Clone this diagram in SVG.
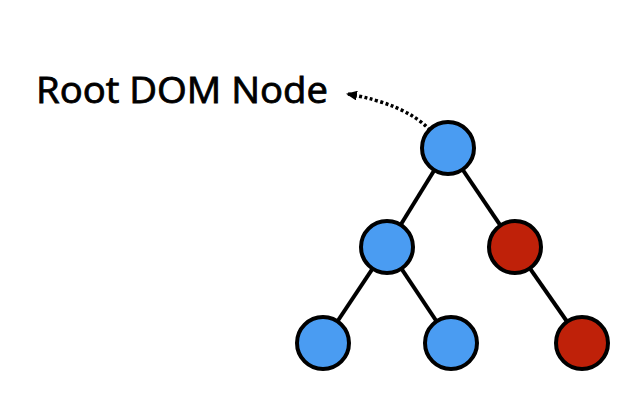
<svg xmlns="http://www.w3.org/2000/svg" width="635" height="402" viewBox="0 0 635 402">
<defs>
<style>
.n{stroke:#000;stroke-width:4}
.b{fill:#4a9cf2}
.r{fill:#bf2109}
.e{stroke:#000;stroke-width:4;fill:none}
</style>
<marker id="ah" markerWidth="11" markerHeight="10" refX="9" refY="5" orient="auto" markerUnits="userSpaceOnUse">
<path d="M0,0 L11,5 L0,10 Z" fill="#000"/>
</marker>
</defs>
<rect width="635" height="402" fill="#fff"/>
<text x="36" y="102.5" font-family="Open Sans, sans-serif" font-size="36" fill="#000" stroke="#000" stroke-width="0.8" textLength="292" lengthAdjust="spacingAndGlyphs">Root DOM Node</text>
<g id="connectors">
<line class="e" x1="448" y1="148" x2="387" y2="247"/>
<line class="e" x1="448" y1="148" x2="515" y2="247"/>
<line class="e" x1="387" y1="247" x2="323" y2="343"/>
<line class="e" x1="387" y1="247" x2="451" y2="343"/>
<line class="e" x1="515" y1="247" x2="582" y2="343"/>
<path d="M430,130 Q405,104 348,94" fill="none" stroke="#000" stroke-width="3.5" stroke-dasharray="3,2.5" marker-end="url(#ah)"/>
</g>
<g id="root"><circle class="n b" cx="448" cy="148" r="26"/></g>
<g id="mid-left"><circle class="n b" cx="387" cy="247" r="26"/></g>
<g id="mid-right"><circle class="n r" cx="515" cy="247" r="26"/></g>
<g id="leaf-1"><circle class="n b" cx="323" cy="343" r="26"/></g>
<g id="leaf-2"><circle class="n b" cx="451" cy="343" r="26"/></g>
<g id="leaf-3"><circle class="n r" cx="582" cy="343" r="26"/></g>
</svg>
